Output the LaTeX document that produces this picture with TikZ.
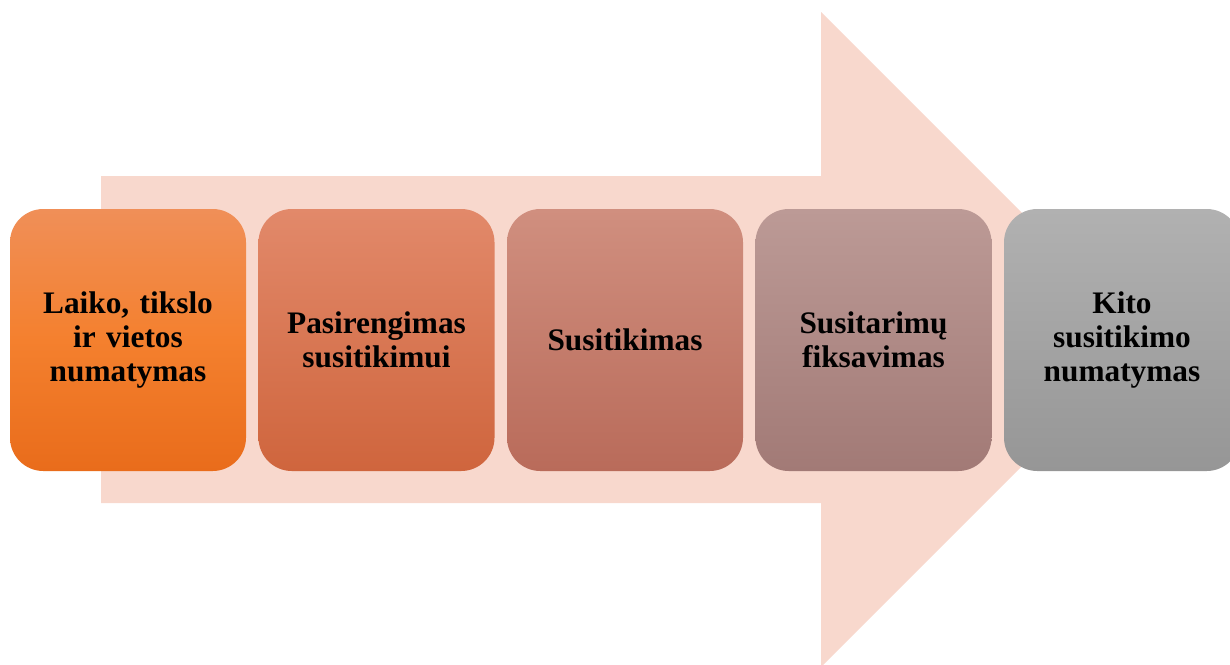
\documentclass[tikz,border=0pt]{standalone}
\usepackage{fontspec}
\setmainfont{Liberation Serif}
\definecolor{arrowc}{RGB}{248,216,205}
\definecolor{aT}{RGB}{240,143,88}
\definecolor{aM}{RGB}{244,128,46}
\definecolor{aB}{RGB}{233,108,27}
\definecolor{bT}{RGB}{226,137,106}
\definecolor{bB}{RGB}{207,101,61}
\definecolor{cT}{RGB}{208,143,127}
\definecolor{cB}{RGB}{185,107,90}
\definecolor{dT}{RGB}{188,154,150}
\definecolor{dB}{RGB}{162,122,118}
\definecolor{eT}{RGB}{177,177,177}
\definecolor{eB}{RGB}{150,150,150}
\tikzset{
  stagebox/.style={rectangle, rounded corners=25pt, minimum width=177pt, minimum height=196.5pt,
    inner sep=0pt, align=center, text width=176pt,
    font=\fontsize{23.5pt}{25.5pt}\selectfont\bfseries},
  bigarrow/.style={fill=arrowc, draw=none}
}
\begin{document}
\begin{tikzpicture}[x=0.75pt,y=-0.75pt]
\useasboundingbox (0,0) rectangle (1230,664);
\clip (0,0) rectangle (1230,664);
\fill[bigarrow] (101,176) -- (821,176) -- (821,12) -- (1148.5,339.5) -- (821,667) -- (821,503) -- (101,503) -- cycle;
\node[stagebox, shade, top color=aT, bottom color=aB, middle color=aM] (s1) at (128,340) {Laiko, tikslo\\ir vietos\\numatymas};
\node[stagebox, shade, top color=bT, bottom color=bB] (s2) at (376.5,340) {Pasirengimas\\susitikimui};
\node[stagebox, shade, top color=cT, bottom color=cB] (s3) at (625,340) {Susitikimas};
\node[stagebox, shade, top color=dT, bottom color=dB] (s4) at (873.5,340) {Susitarimų\\fiksavimas};
\node[stagebox, shade, top color=eT, bottom color=eB] (s5) at (1122,340) {Kito\\susitikimo\\numatymas};
\end{tikzpicture}
\end{document}
